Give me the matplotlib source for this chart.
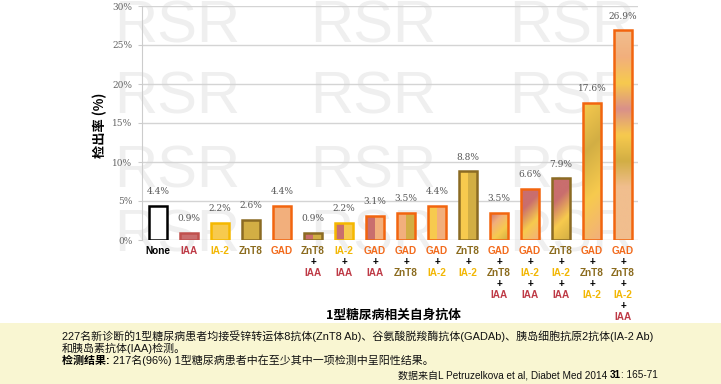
import numpy as np
import matplotlib
matplotlib.use("Agg")
import matplotlib.pyplot as plt
import matplotlib.colors as mcolors
from matplotlib.patches import Rectangle

CJK = ["Noto Sans CJK SC", "DejaVu Sans"]
NOTE = ["Liberation Sans", "Noto Sans CJK SC"]

# antibody colours: text, fill, edge
TXT = {"None": "#000000", "IAA": "#BE3A46", "IA-2": "#F2B705",
       "ZnT8": "#8B6B1E", "GAD": "#F26B1D", "+": "#000000"}
FILL = {"IAA": "#C96E6E", "IA-2": "#F7CA4E", "ZnT8": "#D2AE44",
        "GAD": "#F2AF7C", "None": "#FFFFFF", "pink": "#D9908A", "light": "#F1BE8E"}
EDGE = {"None": "#000000", "IAA": "#C0504D", "IA-2": "#F5B800",
        "ZnT8": "#8B6B23", "GAD": "#F2650F"}

groups = [["None"], ["IAA"], ["IA-2"], ["ZnT8"], ["GAD"],
          ["ZnT8", "IAA"], ["IA-2", "IAA"], ["GAD", "IAA"], ["GAD", "ZnT8"],
          ["GAD", "IA-2"], ["ZnT8", "IA-2"], ["GAD", "ZnT8", "IAA"],
          ["GAD", "IA-2", "IAA"], ["ZnT8", "IA-2", "IAA"],
          ["GAD", "ZnT8", "IA-2"], ["GAD", "ZnT8", "IA-2", "IAA"]]
rates = [4.4, 0.9, 2.2, 2.6, 4.4, 0.9, 2.2, 3.1, 3.5, 4.4, 8.8, 3.5, 6.6, 7.9, 17.6, 26.9]

# fill style of each bar: (kind, colour stops)
fills = [
    ("solid", ["None"]), ("solid", ["IAA"]), ("solid", ["IA-2"]), ("solid", ["ZnT8"]),
    ("solid", ["GAD"]),
    ("split", ["IAA", "ZnT8"]), ("split", ["IAA", "IA-2"]), ("split", ["IAA", "GAD"]),
    ("split", ["GAD", "ZnT8"]), ("split", ["IA-2", "GAD"]), ("split", ["IA-2", "ZnT8"]),
    ("diag", ["IAA", "GAD", "IA-2", "ZnT8"]), ("diag", ["IAA", "IAA", "IA-2", "GAD"]),
    ("diag", ["IAA", "IAA", "IA-2", "ZnT8"]), ("diag", ["IA-2", "ZnT8", "IA-2", "GAD"]),
    ("vert", ["light", "GAD", "IA-2", "pink", "IA-2", "ZnT8", "light", "light", "light"]),
]

fig = plt.figure(figsize=(7.21, 3.84), dpi=100)
fig.patch.set_facecolor("white")

# bottom note band
fig.patches.append(Rectangle((0, 0), 1, 61 / 384, transform=fig.transFigure,
                             facecolor="#F9F6D2", edgecolor="none", zorder=-2))

# watermark
for cx in [177, 373, 572]:
    for cy in [27, 98, 172, 236]:
        fig.text(cx / 721, 1 - cy / 384, "RSR", fontsize=43, color="#EFEFEF",
                 ha="center", va="center", zorder=-1, family="Liberation Sans")

ax = fig.add_axes([142 / 721, 144 / 384, 496 / 721, 234 / 384])
ax.set_facecolor("none")
x = np.arange(len(rates))
w = 0.58


def stops_rgb(names):
    return np.array([mcolors.to_rgb(FILL[n]) for n in names])


bars = ax.bar(x, rates, width=w, facecolor="none",
              edgecolor=[EDGE[g[0]] for g in groups], linewidth=1.8, zorder=3)
for b, (kind, names) in zip(bars, fills):
    x0, h = b.get_x(), b.get_height()
    rgb = stops_rgb(names)
    if kind in ("solid", "split"):
        img = rgb[None, :, :]
    else:
        n = 100
        vv, uu = np.mgrid[1:0:n * 1j, 0:1:n * 1j]
        if kind == "diag":
            hp = max(h * 7.8, 1.0)
            t = uu * 18 + (1 - vv) * hp
            t = (t - t.min()) / (t.max() - t.min())
        else:
            t = 1 - vv
        pos = np.linspace(0, 1, len(names))
        img = np.stack([np.interp(t, pos, rgb[:, c]) for c in range(3)], axis=-1)
    im = ax.imshow(img, extent=[x0, x0 + w, 0, h], aspect="auto",
                   interpolation="nearest" if kind in ("solid", "split") else "bilinear",
                   zorder=2)
    im.set_clip_path(b)

for xi, v in zip(x, rates):
    ax.annotate(f"{v}%", (xi, v), xytext=(0, 14), textcoords="offset pixels",
                ha="center", va="center", fontsize=6.5, color="#555555",
                family="DejaVu Serif")

# multi-line coloured category labels
for xi, g in zip(x, groups):
    lines = []
    for k, name in enumerate(g):
        if k:
            lines.append("+")
        lines.append(name)
    for k, s in enumerate(lines):
        ax.annotate(s, xy=(xi, 0), xycoords=("data", "axes fraction"),
                    xytext=(0, -11 - 11 * k), textcoords="offset pixels",
                    ha="center", va="center", fontsize=7.2, fontweight="bold",
                    color=TXT[s], family="Liberation Sans", annotation_clip=False)

ax.set_xlim(-0.52, 15.48)
ax.set_ylim(0, 30)
ax.set_yticks(range(0, 31, 5))
ax.set_yticklabels([f"{t}%" for t in range(0, 31, 5)], family="DejaVu Serif",
                   fontsize=6.5, color="#666666")
ax.set_xticks([])
ax.grid(axis="y", color="#D4D4D4", linewidth=1, zorder=0)
ax.set_axisbelow(True)
for s in ["top", "right", "bottom"]:
    ax.spines[s].set_visible(False)
ax.spines["left"].set_color("#CCCCCC")
ax.tick_params(axis="y", length=3, color="#CCCCCC", pad=4)

fig.text(100 / 721, 1 - 125 / 384, "检出率 (%)", rotation=90, ha="center", va="center",
         fontsize=9.5, fontweight="bold", family=CJK)
fig.text(393 / 721, 1 - 315 / 384, "1型糖尿病相关自身抗体", ha="center", va="center",
         fontsize=9.2, fontweight="bold", family=CJK)

fs = 7.9
fig.text(62 / 721, 1 - 340 / 384,
         "227名新诊断的1型糖尿病患者均接受锌转运体8抗体(ZnT8 Ab)、谷氨酸脱羧酶抗体(GADAb)、胰岛细胞抗原2抗体(IA-2 Ab)",
         ha="left", va="baseline", fontsize=fs, family=NOTE, color="#111111")
fig.text(62 / 721, 1 - 352 / 384, "和胰岛素抗体(IAA)检测。", ha="left", va="baseline",
         fontsize=fs, family=NOTE, color="#111111")
t1 = fig.text(62 / 721, 1 - 364 / 384, "检测结果: ", ha="left", va="baseline",
              fontsize=fs, fontweight="bold", family=NOTE)
ax.annotate("217名(96%) 1型糖尿病患者中在至少其中一项检测中呈阳性结果。", xy=(1, 0),
            xycoords=t1, ha="left", va="bottom", fontsize=fs, family=NOTE,
            color="#111111", annotation_clip=False)
fs4 = 7.2
r1 = fig.text(658 / 721, 1 - 378 / 384, ": 165-71", ha="right", va="baseline",
              fontsize=fs4, family=NOTE, color="#111111")
r2 = ax.annotate("31", xy=(0, 0), xycoords=r1, ha="right", va="bottom", fontsize=fs4,
                 fontweight="bold", family=NOTE, annotation_clip=False)
ax.annotate("数据来自L Petruzelkova et al, Diabet Med 2014 ", xy=(0, 0), xycoords=r2,
            ha="right", va="bottom", fontsize=fs4, family=NOTE, color="#111111",
            annotation_clip=False)

fig.savefig("out.png", dpi=100)
